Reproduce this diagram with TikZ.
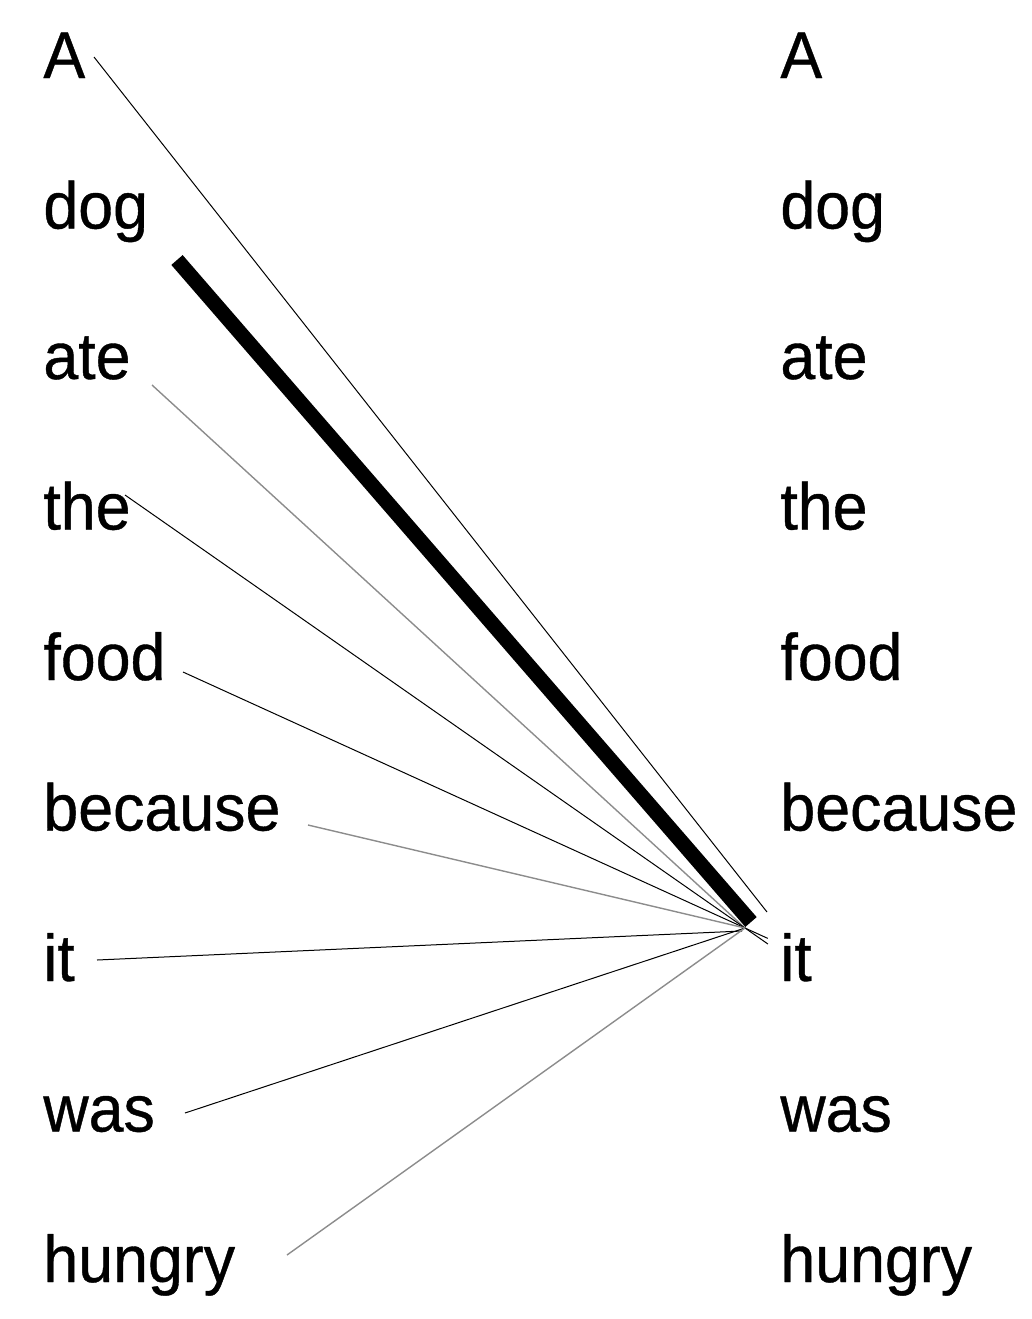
\documentclass[tikz,border=0pt]{standalone}
\usepackage{fontspec}
\setmainfont{Liberation Sans}[FakeStretch=0.95,FakeBold=0.6]
\usepackage{xcolor}

\begin{document}
\begin{tikzpicture}[x=0.5pt,y=-0.5pt,
  word/.style={anchor=base west, inner sep=0pt, font=\fontsize{33}{40}\selectfont},
  lnk/.style={line width=0.5pt, black},
  lnkgray/.style={line width=0.7pt, black!45},
  lnkheavy/.style={line width=7.5pt, black}]
\useasboundingbox (0,0) rectangle (1032,1319);

\node [word] (lA)       at (43,78)     {A};
\node [word] (ldog)     at (43,228.5)  {dog};
\node [word] (late)     at (43,379)    {ate};
\node [word] (lthe)     at (43,529.5)  {the};
\node [word] (lfood)    at (43,680)    {food};
\node [word] (lbecause) at (43,830.5)  {because};
\node [word] (lit)      at (43,981)    {it};
\node [word] (lwas)     at (43,1131.5) {was};
\node [word] (lhungry)  at (43,1282)   {hungry};

\node [word] (rA)       at (780,78)     {A};
\node [word] (rdog)     at (780,228.5)  {dog};
\node [word] (rate)     at (780,379)    {ate};
\node [word] (rthe)     at (780,529.5)  {the};
\node [word] (rfood)    at (780,680)    {food};
\node [word] (rbecause) at (780,830.5)  {because};
\node [word] (rit)      at (780,981)    {it};
\node [word] (rwas)     at (780,1131.5) {was};
\node [word] (rhungry)  at (780,1282)   {hungry};

\coordinate (hub) at ([shift={(-35,-53)}]rit.base west);

\draw [lnk] ([shift={(51,-21)}]lA.base west) -- ([shift={(-13,-69)}]rit.base west);
\draw [lnkgray] ([shift={(109,6)}]late.base west) -- (hub);
\draw [lnk, shorten >=-14pt] ([shift={(82,-34.5)}]lthe.base west) -- (hub);
\draw [lnk, shorten >=-12.5pt] ([shift={(140,-8)}]lfood.base west) -- (hub);
\draw [lnkgray] ([shift={(265,-5.5)}]lbecause.base west) -- (hub);
\draw [lnk] ([shift={(54,-21)}]lit.base west) -- ([shift={(-38,-50)}]rit.base west);
\draw [lnk] ([shift={(142,-18.5)}]lwas.base west) -- (hub);
\draw [lnkgray] ([shift={(244,-27)}]lhungry.base west) -- (hub);
\draw [lnkheavy] ([shift={(134,31.5)}]ldog.base west) -- ([shift={(-29,-59)}]rit.base west);
\end{tikzpicture}
\end{document}
